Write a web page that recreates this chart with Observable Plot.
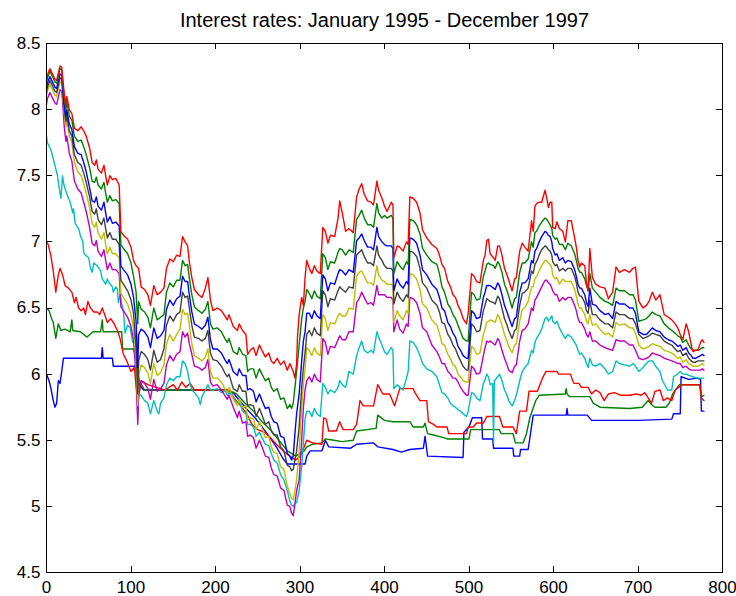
<!DOCTYPE html>
<html>
<head>
<meta charset="utf-8">
<script src="https://cdn.jsdelivr.net/npm/d3@7"></script>
<script src="https://cdn.jsdelivr.net/npm/@observablehq/plot@0.6"></script>
<style>
  body { margin: 0; background: #fff; }
  #chart svg { display: block; }
</style>
</head>
<body>
<div id="chart"></div>
<script>
// Daily interest rates, January 1995 - December 1997 (trading day index on x)

const title = "Interest rates: January 1995 - December 1997";
const xTicks = [0, 100, 200, 300, 400, 500, 600, 700, 800];
const yTicks = [4.5, 5, 5.5, 6, 6.5, 7, 7.5, 8, 8.5];

// Sampling days shared by five of the middle maturities
const midDays = [
  0,1,4,7,10,12,16,18,19,21,
  23,24,27,30,33,37,41,44,47,51,
  54,57,59,61,65,68,70,72,75,78,
  82,86,88,91,96,100,103,106,108,109,
  112,116,120,123,127,131,135,139,142,146,
  150,154,158,161,164,167,169,172,175,180,
  184,188,191,194,197,202,207,211,214,216,
  221,226,228,232,236,238,241,245,248,252,
  255,259,263,266,269,273,277,281,285,288,
  290,292,294,296,299,302,304,306,308,311,
  314,317,320,324,327,330,333,336,341,345,
  347,350,354,358,363,367,370,373,376,380,
  384,387,391,393,397,400,403,408,410,411,
  415,418,422,426,428,430,434,438,442,445,
  450,456,462,465,468,471,475,478,481,484,
  487,490,493,497,499,503,506,509,513,517,
  519,521,523,525,529,531,534,536,539,542,
  545,547,551,554,556,560,563,566,570,574,
  576,578,580,583,586,590,592,594,596,598,
  599,602,604,607,611,614,617,621,625,627,
  629,631,633,637,639,641,643,646,650,655,
  661,665,670,674,678,684,690,694,697,701,
  706,710,713,717,721,726,731,736,740,744,
  747,750,753,757,760,763,765,768,771,774,
  776,778];

const greenMid = [
  8.20,8.24,8.29,8.25,8.21,8.20,8.31,8.30,8.23,8.09,
  8.00,8.06,7.95,7.92,7.80,7.76,7.77,7.72,7.66,7.56,
  7.46,7.45,7.49,7.43,7.40,7.45,7.37,7.30,7.35,7.31,
  7.32,7.29,6.98,6.95,6.91,6.84,6.74,6.62,6.38,6.55,
  6.49,6.47,6.43,6.35,6.50,6.41,6.43,6.45,6.62,6.69,
  6.66,6.71,6.71,6.86,6.82,6.83,6.73,6.60,6.51,6.48,
  6.46,6.49,6.55,6.38,6.34,6.35,6.32,6.27,6.24,6.27,
  6.17,6.15,6.20,6.15,6.14,6.02,6.04,6.04,5.97,6.04,
  6.00,5.95,5.97,5.90,5.87,5.89,5.81,5.82,5.74,5.77,
  5.74,5.78,5.90,6.02,6.22,6.42,6.50,6.55,6.64,6.61,
  6.57,6.63,6.59,6.57,6.91,6.88,6.79,6.85,6.84,6.92,
  6.95,6.94,6.90,6.94,6.92,7.17,7.20,7.24,7.18,7.13,
  7.13,7.11,7.29,7.22,7.18,7.20,7.18,7.20,7.18,6.76,
  6.85,6.82,6.79,6.85,6.83,7.17,7.16,7.13,7.06,6.95,
  6.90,6.85,6.83,6.76,6.66,6.62,6.53,6.50,6.45,6.42,
  6.37,6.32,6.27,6.25,6.25,6.62,6.60,6.56,6.57,6.74,
  6.78,6.83,6.84,6.83,6.82,6.80,6.85,6.83,6.77,6.68,
  6.63,6.59,6.50,6.57,6.58,6.77,6.84,6.84,6.87,7.00,
  6.96,7.07,7.08,7.12,7.15,7.18,7.17,7.15,7.13,7.10,
  7.05,7.02,7.03,6.98,6.98,6.94,6.99,6.97,6.91,6.86,
  6.80,6.77,6.77,6.72,6.67,6.63,6.76,6.65,6.62,6.58,
  6.55,6.54,6.52,6.65,6.63,6.63,6.60,6.60,6.56,6.40,
  6.41,6.42,6.44,6.47,6.45,6.44,6.38,6.35,6.33,6.31,
  6.29,6.28,6.24,6.26,6.22,6.19,6.18,6.18,6.18,6.19,
  6.20,6.20];

const blueMid = [
  8.16,8.20,8.25,8.21,8.17,8.16,8.27,8.26,8.19,8.04,
  7.95,8.00,7.89,7.85,7.72,7.67,7.66,7.60,7.53,7.41,
  7.31,7.30,7.34,7.27,7.24,7.30,7.22,7.15,7.19,7.14,
  7.15,7.12,6.82,6.79,6.75,6.68,6.58,6.40,6.05,6.30,
  6.34,6.32,6.28,6.20,6.35,6.27,6.29,6.33,6.49,6.56,
  6.52,6.57,6.59,6.74,6.70,6.70,6.60,6.47,6.38,6.36,
  6.34,6.37,6.43,6.26,6.19,6.19,6.16,6.11,6.08,6.11,
  6.02,5.99,6.04,5.99,5.99,5.88,5.89,5.87,5.79,5.85,
  5.80,5.74,5.75,5.68,5.64,5.63,5.53,5.52,5.40,5.38,
  5.35,5.38,5.55,5.70,5.85,6.10,6.25,6.32,6.46,6.46,
  6.42,6.48,6.44,6.42,6.75,6.72,6.63,6.69,6.68,6.76,
  6.79,6.78,6.75,6.79,6.77,7.01,7.03,7.06,7.01,6.96,
  6.96,6.94,7.11,7.04,7.00,6.98,6.97,6.97,6.95,6.63,
  6.72,6.68,6.65,6.70,6.68,7.03,7.02,6.99,6.90,6.79,
  6.75,6.68,6.64,6.58,6.50,6.48,6.39,6.36,6.31,6.28,
  6.21,6.18,6.14,6.12,6.12,6.48,6.46,6.42,6.43,6.58,
  6.62,6.67,6.67,6.67,6.65,6.64,6.69,6.67,6.60,6.52,
  6.47,6.43,6.36,6.42,6.43,6.62,6.69,6.69,6.72,6.86,
  6.84,6.93,6.95,7.00,7.04,7.08,7.07,7.05,7.04,7.00,
  6.95,6.90,6.91,6.86,6.88,6.84,6.86,6.85,6.79,6.74,
  6.68,6.65,6.65,6.60,6.54,6.51,6.65,6.53,6.52,6.48,
  6.45,6.46,6.42,6.55,6.53,6.53,6.50,6.50,6.46,6.32,
  6.30,6.30,6.32,6.35,6.33,6.32,6.28,6.26,6.25,6.23,
  6.21,6.22,6.18,6.20,6.16,6.14,6.12,6.12,6.13,6.14,
  6.15,6.14];

const grayMid = [
  8.13,8.17,8.22,8.18,8.14,8.13,8.24,8.23,8.16,8.00,
  7.91,7.96,7.84,7.80,7.66,7.60,7.58,7.52,7.45,7.34,
  7.23,7.21,7.25,7.17,7.13,7.18,7.10,7.03,7.07,7.02,
  7.02,6.98,6.71,6.68,6.63,6.56,6.46,6.20,5.85,6.10,
  6.17,6.15,6.11,6.03,6.18,6.09,6.11,6.19,6.37,6.44,
  6.40,6.45,6.47,6.62,6.58,6.59,6.50,6.37,6.28,6.27,
  6.25,6.27,6.33,6.16,6.11,6.10,6.06,6.01,5.98,6.00,
  5.89,5.87,5.92,5.87,5.87,5.76,5.77,5.76,5.68,5.74,
  5.69,5.62,5.64,5.57,5.54,5.54,5.45,5.42,5.31,5.30,
  5.27,5.28,5.35,5.42,5.60,5.90,6.05,6.16,6.30,6.33,
  6.29,6.35,6.31,6.29,6.63,6.60,6.51,6.57,6.56,6.63,
  6.66,6.64,6.62,6.66,6.65,6.90,6.92,6.94,6.89,6.84,
  6.84,6.82,6.97,6.90,6.86,6.82,6.80,6.80,6.78,6.53,
  6.62,6.58,6.55,6.60,6.58,6.93,6.92,6.89,6.80,6.69,
  6.65,6.56,6.52,6.47,6.39,6.38,6.30,6.27,6.22,6.19,
  6.14,6.10,6.06,6.03,6.03,6.38,6.36,6.32,6.33,6.48,
  6.52,6.57,6.56,6.55,6.54,6.53,6.59,6.57,6.50,6.42,
  6.37,6.33,6.27,6.33,6.34,6.52,6.61,6.62,6.65,6.78,
  6.76,6.83,6.85,6.90,6.94,6.97,6.96,6.94,6.93,6.90,
  6.85,6.82,6.83,6.78,6.80,6.78,6.80,6.80,6.74,6.69,
  6.62,6.59,6.59,6.54,6.48,6.46,6.56,6.45,6.45,6.41,
  6.38,6.38,6.35,6.47,6.45,6.45,6.42,6.42,6.38,6.30,
  6.27,6.28,6.29,6.31,6.30,6.29,6.25,6.23,6.22,6.19,
  6.17,6.18,6.14,6.16,6.12,6.10,6.09,6.09,6.10,6.10,
  6.10,6.10];

const yellowMid = [
  8.10,8.14,8.19,8.15,8.11,8.10,8.21,8.20,8.13,7.97,
  7.87,7.92,7.80,7.75,7.60,7.53,7.50,7.44,7.37,7.26,
  7.14,7.11,7.15,7.07,7.02,7.07,6.98,6.91,6.96,6.91,
  6.91,6.88,6.61,6.58,6.53,6.45,6.35,6.10,5.76,5.98,
  6.07,6.05,6.01,5.93,6.08,5.99,6.01,6.07,6.23,6.30,
  6.25,6.30,6.34,6.49,6.45,6.46,6.37,6.23,6.14,6.12,
  6.10,6.13,6.19,6.02,5.97,5.97,5.94,5.89,5.86,5.90,
  5.81,5.76,5.81,5.75,5.76,5.66,5.67,5.66,5.58,5.64,
  5.59,5.52,5.53,5.45,5.41,5.40,5.30,5.28,5.15,5.10,
  5.06,5.05,5.12,5.20,5.42,5.75,5.92,6.04,6.20,6.18,
  6.14,6.20,6.16,6.14,6.45,6.42,6.33,6.39,6.38,6.44,
  6.46,6.44,6.44,6.50,6.49,6.74,6.77,6.78,6.74,6.69,
  6.69,6.67,6.82,6.75,6.71,6.70,6.68,6.68,6.66,6.39,
  6.48,6.44,6.41,6.48,6.46,6.76,6.75,6.72,6.64,6.53,
  6.50,6.41,6.37,6.31,6.23,6.22,6.15,6.12,6.07,6.06,
  6.00,5.98,5.95,5.94,5.94,6.21,6.19,6.15,6.16,6.30,
  6.34,6.39,6.40,6.41,6.40,6.39,6.45,6.43,6.37,6.30,
  6.25,6.21,6.16,6.22,6.23,6.40,6.49,6.50,6.55,6.66,
  6.66,6.72,6.74,6.78,6.82,6.86,6.86,6.84,6.83,6.80,
  6.75,6.72,6.73,6.68,6.72,6.70,6.70,6.70,6.64,6.59,
  6.53,6.50,6.50,6.45,6.40,6.38,6.45,6.37,6.38,6.34,
  6.30,6.31,6.28,6.39,6.37,6.38,6.35,6.35,6.31,6.22,
  6.19,6.20,6.21,6.23,6.22,6.21,6.18,6.17,6.16,6.14,
  6.12,6.13,6.09,6.11,6.08,6.07,6.06,6.06,6.06,6.07,
  6.08,6.07];

const magentaMid = [
  8.04,8.08,8.13,8.09,8.05,8.04,8.15,8.14,8.07,7.87,
  7.76,7.80,7.67,7.61,7.46,7.40,7.37,7.30,7.23,7.11,
  6.99,6.97,7.01,6.93,6.89,6.94,6.86,6.79,6.84,6.79,
  6.79,6.76,6.51,6.48,6.43,6.36,6.26,5.98,5.62,5.85,
  5.95,5.93,5.89,5.81,5.96,5.87,5.89,5.93,6.07,6.14,
  6.10,6.15,6.17,6.32,6.28,6.31,6.23,6.15,6.06,6.05,
  6.03,6.05,6.11,5.94,5.91,5.92,5.88,5.84,5.81,5.84,
  5.75,5.67,5.72,5.63,5.64,5.53,5.54,5.52,5.44,5.50,
  5.45,5.38,5.37,5.29,5.24,5.23,5.14,5.12,5.01,5.00,
  4.95,4.93,5.02,5.12,5.20,5.50,5.75,5.88,5.95,5.98,
  5.94,6.00,5.96,5.94,6.27,6.24,6.15,6.21,6.20,6.26,
  6.29,6.26,6.26,6.32,6.32,6.54,6.57,6.62,6.58,6.53,
  6.54,6.52,6.67,6.60,6.60,6.60,6.58,6.58,6.56,6.32,
  6.41,6.34,6.31,6.38,6.36,6.58,6.57,6.54,6.46,6.35,
  6.32,6.22,6.17,6.13,6.08,6.08,6.02,6.00,5.97,5.97,
  5.94,5.90,5.87,5.84,5.84,6.06,6.04,6.00,6.01,6.14,
  6.20,6.25,6.24,6.25,6.23,6.22,6.27,6.25,6.18,6.12,
  6.07,6.03,6.01,6.06,6.07,6.25,6.33,6.34,6.38,6.50,
  6.48,6.56,6.58,6.62,6.66,6.71,6.71,6.69,6.68,6.65,
  6.63,6.60,6.60,6.55,6.58,6.56,6.58,6.58,6.52,6.48,
  6.42,6.39,6.39,6.34,6.30,6.28,6.32,6.25,6.25,6.22,
  6.20,6.19,6.18,6.26,6.25,6.25,6.22,6.22,6.18,6.12,
  6.11,6.12,6.13,6.16,6.15,6.14,6.12,6.11,6.10,6.09,
  6.08,6.08,6.05,6.06,6.04,6.03,6.03,6.03,6.03,6.03,
  6.04,6.03];

// Cyan maturity: [day, rate]
const cyanMid = [[0,7.80],[1,7.75],[5,7.70],[8,7.63],[13,7.50],[14,7.45],[17,7.33],[19,7.50],[20,7.45],[22,7.40],
  [26,7.33],[28,7.30],[31,7.22],[32,7.25],[34,7.14],[38,7.10],[40,7.05],[43,7.00],[44,6.92],[46,6.90],
  [50,6.88],[52,6.80],[54,6.77],[56,6.84],[60,6.82],[64,6.78],[66,6.72],[70,6.68],[72,6.72],[73,6.70],
  [78,6.66],[79,6.62],[82,6.66],[84,6.64],[85,6.54],[87,6.60],[90,6.50],[91,6.47],[93,6.31],[96,6.37],
  [99,6.35],[102,6.24],[104,6.32],[107,6.10],[108,5.66],[109,5.85],[112,5.84],[116,5.80],[120,5.78],[123,5.70],
  [127,5.80],[131,5.72],[133,5.70],[135,5.78],[139,5.82],[142,5.92],[146,5.97],[150,5.95],[154,5.98],[158,5.98],
  [161,6.10],[164,6.08],[167,6.02],[169,5.95],[172,5.88],[175,5.86],[180,5.82],[182,5.77],[184,5.83],[188,5.88],
  [191,5.92],[194,5.88],[197,5.88],[202,5.89],[207,5.86],[211,5.88],[214,5.84],[216,5.86],[221,5.82],[226,5.78],
  [228,5.80],[232,5.72],[236,5.70],[238,5.62],[241,5.62],[245,5.60],[248,5.53],[252,5.56],[255,5.52],[259,5.47],
  [263,5.46],[266,5.40],[269,5.35],[273,5.33],[277,5.24],[281,5.20],[285,5.12],[288,5.04],[290,5.01],[292,5.00],
  [294,5.02],[296,5.03],[299,5.12],[302,5.30],[304,5.48],[306,5.66],[308,5.72],[311,5.72],[314,5.68],[317,5.74],
  [320,5.70],[324,5.68],[327,5.93],[330,5.90],[333,5.85],[336,5.88],[341,5.86],[345,5.90],[347,5.95],[350,5.92],
  [354,5.90],[358,6.02],[363,6.00],[367,6.14],[370,6.20],[373,6.25],[376,6.18],[380,6.16],[384,6.18],[387,6.16],
  [391,6.32],[393,6.28],[397,6.22],[400,6.17],[403,6.15],[408,6.20],[410,6.18],[411,5.89],[415,5.92],[418,5.90],
  [422,5.88],[426,5.97],[428,6.02],[430,6.25],[434,6.24],[438,6.20],[442,6.14],[445,6.08],[450,6.04],[456,6.02],
  [462,5.98],[465,5.92],[468,5.86],[471,5.85],[475,5.82],[478,5.78],[481,5.76],[484,5.75],[487,5.73],[490,5.72],
  [493,5.70],[497,5.68],[499,5.72],[503,5.86],[506,5.85],[509,5.82],[513,5.80],[517,5.93],[519,5.96],[521,6.00],
  [523,5.98],[525,5.92],[528,5.93],[529,5.48],[530,5.95],[534,5.98],[536,6.00],[539,5.95],[542,5.88],[545,5.84],
  [547,5.80],[551,5.76],[554,5.80],[556,5.84],[560,5.95],[563,6.02],[566,6.05],[570,6.08],[574,6.18],[576,6.16],
  [578,6.24],[580,6.27],[583,6.30],[586,6.34],[590,6.42],[592,6.43],[594,6.40],[596,6.42],[598,6.44],[599,6.40],
  [602,6.38],[604,6.40],[607,6.35],[611,6.30],[614,6.27],[617,6.30],[621,6.28],[625,6.24],[627,6.22],[629,6.18],
  [631,6.15],[633,6.16],[637,6.12],[639,6.08],[641,6.05],[643,6.12],[646,6.07],[650,6.06],[655,6.08],[661,6.04],
  [665,6.00],[670,6.02],[674,6.10],[678,6.08],[684,6.07],[690,6.06],[694,6.08],[697,6.06],[701,6.02],[706,6.05],
  [710,6.08],[713,6.10],[717,6.10],[721,6.06],[726,6.02],[729,5.95],[735,5.88],[740,5.88],[742,5.98],[747,6.00],
  [750,6.02],[753,6.00],[757,6.00],[760,5.99],[765,5.98],[770,5.97],[774,5.97],[778,5.97]];

// Longest maturity: [day, rate]
const redLong = [[0,8.22],[1,8.26],[4,8.31],[7,8.27],[10,8.23],[12,8.22],[16,8.33],[18,8.32],[19,8.25],[21,8.12],
  [23,8.04],[24,8.10],[27,8.00],[30,7.97],[33,7.86],[37,7.84],[41,7.87],[44,7.84],[47,7.80],[51,7.71],
  [54,7.60],[57,7.58],[59,7.62],[61,7.55],[65,7.52],[68,7.58],[70,7.50],[72,7.43],[75,7.50],[78,7.47],
  [82,7.48],[86,7.43],[88,7.08],[91,7.05],[96,7.02],[100,6.96],[103,6.86],[106,6.82],[109,6.80],[112,6.66],
  [116,6.64],[120,6.60],[123,6.52],[127,6.67],[131,6.60],[135,6.62],[139,6.65],[142,6.80],[146,6.87],[150,6.85],
  [154,6.90],[158,6.89],[161,7.04],[164,7.00],[167,6.97],[169,6.85],[172,6.73],[175,6.64],[180,6.60],[184,6.58],
  [188,6.65],[191,6.73],[194,6.56],[197,6.48],[202,6.50],[207,6.48],[211,6.44],[214,6.41],[216,6.45],[221,6.36],
  [226,6.33],[228,6.38],[232,6.33],[236,6.30],[238,6.15],[241,6.18],[245,6.20],[248,6.14],[252,6.22],[255,6.18],
  [259,6.13],[263,6.16],[266,6.10],[269,6.08],[273,6.12],[277,6.07],[281,6.10],[285,6.03],[288,6.08],[292,6.02],
  [294,5.97],[296,6.08],[297,6.28],[299,6.45],[302,6.58],[304,6.52],[306,6.73],[308,6.86],[311,6.80],[314,6.76],
  [317,6.82],[320,6.78],[324,6.76],[327,7.11],[330,7.08],[333,6.99],[336,7.05],[341,7.04],[345,7.18],[347,7.31],
  [350,7.22],[354,7.08],[358,7.10],[363,7.07],[367,7.34],[370,7.40],[373,7.44],[376,7.36],[380,7.31],[384,7.30],
  [387,7.28],[391,7.46],[393,7.39],[397,7.33],[400,7.27],[403,7.23],[408,7.30],[410,7.28],[411,6.88],[415,6.97],
  [418,6.96],[422,6.93],[426,7.00],[428,6.98],[430,7.34],[434,7.33],[438,7.30],[442,7.22],[445,7.09],[450,7.03],
  [456,6.98],[462,6.95],[465,6.90],[468,6.83],[471,6.80],[475,6.70],[478,6.66],[481,6.60],[484,6.58],[487,6.52],
  [490,6.48],[493,6.42],[497,6.38],[499,6.46],[503,6.76],[506,6.74],[509,6.70],[513,6.69],[517,6.86],[519,6.90],
  [521,7.01],[523,7.02],[525,6.91],[529,6.88],[531,6.86],[534,6.97],[536,6.97],[539,6.90],[542,6.80],[545,6.75],
  [547,6.71],[551,6.63],[554,6.72],[556,6.73],[560,6.93],[563,6.99],[566,6.96],[570,6.93],[574,7.16],[576,7.08],
  [578,7.27],[580,7.29],[583,7.30],[586,7.30],[590,7.39],[592,7.33],[594,7.26],[596,7.30],[598,7.30],[599,7.11],
  [602,7.10],[604,7.15],[607,7.10],[611,7.08],[614,7.00],[617,7.16],[621,7.16],[625,7.03],[627,6.96],[629,6.86],
  [631,6.81],[633,6.84],[637,6.82],[639,6.69],[641,6.63],[643,6.95],[646,6.73],[650,6.68],[655,6.66],[661,6.65],
  [665,6.57],[670,6.62],[674,6.81],[678,6.77],[684,6.79],[690,6.77],[694,6.80],[697,6.81],[701,6.55],[706,6.50],
  [710,6.52],[713,6.55],[717,6.62],[721,6.56],[726,6.60],[731,6.45],[736,6.43],[740,6.41],[744,6.38],[747,6.35],
  [750,6.30],[753,6.26],[757,6.38],[760,6.32],[763,6.22],[765,6.17],[768,6.18],[771,6.18],[774,6.24],[776,6.26],
  [778,6.24]];

// Short maturities: [day, rate]
const blueShort = [[0,6.00],[3,5.95],[5,5.90],[8,5.80],[10,5.75],[12,5.78],[14,5.95],[16,5.93],[18,6.02],[20,6.12],
  [34,6.12],[46,6.12],[65,6.12],[66,6.20],[67,6.12],[78,6.12],[79,6.06],[105,6.06],[110,5.92],[115,5.88],
  [215,5.88],[222,5.85],[235,5.75],[248,5.66],[260,5.56],[272,5.45],[280,5.36],[285,5.32],[306,5.32],[308,5.38],
  [312,5.42],[326,5.42],[330,5.50],[334,5.45],[360,5.44],[367,5.47],[387,5.48],[392,5.45],[410,5.43],[420,5.41],
  [430,5.43],[446,5.44],[448,5.53],[451,5.38],[493,5.37],[494,5.56],[500,5.60],[504,5.67],[515,5.67],[516,5.51],
  [528,5.51],[529,5.44],[552,5.44],[553,5.38],[560,5.38],[561,5.43],[570,5.43],[573,5.56],[576,5.69],[615,5.69],
  [616,5.74],[617,5.69],[640,5.69],[645,5.65],[700,5.65],[740,5.66],[742,5.70],[750,5.70],[751,5.98],[760,5.96],
  [770,5.97],[774,5.96],[775,5.72],[778,5.72]];

const greenShort = [[0,6.50],[3,6.48],[6,6.42],[8,6.39],[11,6.27],[14,6.38],[17,6.33],[22,6.34],[28,6.32],[30,6.41],
  [31,6.33],[40,6.32],[48,6.28],[55,6.32],[64,6.32],[66,6.41],[67,6.32],[75,6.32],[89,6.32],[90,6.19],
  [103,6.19],[106,6.10],[110,5.95],[116,5.88],[140,5.88],[160,5.88],[180,5.88],[215,5.88],[225,5.85],[235,5.78],
  [245,5.72],[255,5.64],[265,5.58],[275,5.50],[285,5.42],[295,5.38],[305,5.42],[308,5.45],[315,5.47],[326,5.48],
  [330,5.51],[340,5.50],[350,5.49],[363,5.50],[367,5.57],[390,5.59],[392,5.69],[400,5.65],[410,5.64],[430,5.64],
  [434,5.60],[446,5.60],[448,5.63],[451,5.55],[458,5.54],[470,5.52],[474,5.51],[500,5.51],[502,5.58],[536,5.58],
  [538,5.55],[552,5.55],[555,5.48],[564,5.48],[568,5.55],[572,5.67],[579,5.80],[583,5.84],[614,5.85],[615,5.89],
  [616,5.85],[619,5.83],[643,5.83],[647,5.78],[655,5.75],[690,5.74],[705,5.75],[712,5.80],[716,5.77],[720,5.75],
  [733,5.75],[737,5.78],[741,5.85],[749,5.92],[760,5.92],[773,5.92],[775,5.83],[778,5.84]];

const redShort = [[0,7.00],[2,6.98],[5,6.90],[8,6.78],[11,6.62],[14,6.75],[16,6.80],[19,6.75],[22,6.67],[26,6.65],
  [30,6.62],[33,6.54],[35,6.58],[38,6.50],[41,6.48],[44,6.50],[46,6.45],[49,6.55],[52,6.50],[56,6.47],
  [60,6.47],[63,6.45],[66,6.50],[70,6.43],[72,6.39],[76,6.42],[80,6.38],[84,6.33],[87,6.27],[91,6.15],
  [95,6.10],[100,6.02],[104,6.05],[108,5.78],[112,5.95],[120,5.92],[130,5.90],[140,5.88],[150,5.92],[155,5.88],
  [160,5.94],[165,5.90],[170,5.93],[175,5.88],[215,5.88],[222,5.82],[230,5.76],[237,5.70],[243,5.62],[250,5.58],
  [258,5.56],[265,5.52],[272,5.47],[280,5.42],[288,5.38],[295,5.35],[300,5.38],[305,5.45],[308,5.50],[315,5.48],
  [326,5.47],[328,5.67],[331,5.66],[334,5.57],[343,5.57],[347,5.64],[351,5.58],[363,5.58],[367,5.62],[371,5.80],
  [375,5.76],[387,5.76],[392,5.92],[398,5.85],[406,5.85],[412,5.76],[418,5.89],[430,5.89],[434,5.89],[436,5.86],
  [442,5.80],[450,5.80],[452,5.64],[458,5.62],[462,5.60],[474,5.60],[476,5.55],[497,5.55],[499,5.60],[505,5.60],
  [509,5.63],[517,5.63],[521,5.68],[536,5.68],[540,5.60],[552,5.60],[556,5.55],[560,5.72],[568,5.72],[571,5.87],
  [581,5.87],[587,5.97],[591,6.02],[604,6.02],[606,6.00],[620,6.00],[624,5.93],[630,5.93],[633,5.90],[641,5.90],
  [645,5.85],[650,5.88],[655,5.86],[660,5.80],[665,5.85],[672,5.86],[680,5.84],[690,5.84],[698,5.85],[704,5.84],
  [708,5.86],[712,5.82],[716,5.78],[720,5.87],[726,5.88],[730,5.80],[735,5.82],[740,5.80],[744,5.88],[748,5.90],
  [752,5.92],[773,5.92],[775,5.82],[778,5.80]];

const onMidDays = values => midDays.map((d, i) => [d, values[i]]);

// Drawn in this order, later series on top
const series = [
  {points: blueShort,              color: "#0000ff"},
  {points: greenShort,             color: "#008000"},
  {points: redShort,               color: "#ff0000"},
  {points: cyanMid,                color: "#00bfbf"},
  {points: onMidDays(magentaMid),  color: "#bf00bf"},
  {points: onMidDays(yellowMid),   color: "#bfbf00"},
  {points: onMidDays(grayMid),     color: "#404040"},
  {points: onMidDays(blueMid),     color: "#0000ff"},
  {points: onMidDays(greenMid),    color: "#008000"},
  {points: redLong,                color: "#ff0000"}
];

const lines = series.map(s =>
  Plot.line(s.points, {x: d => d[0], y: d => d[1], stroke: s.color, strokeWidth: 1.4})
);

const W = 736, H = 596;
const mL = 46, mR = 14, mT = 43, mB = 24;
const tickLen = 6;

const chart = Plot.plot({
  width: W,
  height: H,
  marginLeft: mL,
  marginRight: mR,
  marginTop: mT,
  marginBottom: mB,
  style: {
    fontFamily: "'Liberation Sans', Arial, Helvetica, sans-serif",
    fontSize: "17px",
    background: "#ffffff",
    color: "#000000"
  },
  x: {domain: [0, 800]},
  y: {domain: [4.5, 8.5]},
  marks: [
    ...lines,
    Plot.frame({stroke: "#000000", strokeWidth: 1}),
    // tick labels
    Plot.axisX(xTicks, {anchor: "bottom", tickSize: 0, tickPadding: 8, label: null, fontSize: 17}),
    Plot.axisY(yTicks, {anchor: "left", tickSize: 0, tickPadding: 6, tickFormat: d => String(d), label: null, fontSize: 17}),
    Plot.text([title], {frameAnchor: "top", dy: -31, fontSize: 20, fill: "#000000"})
  ]
});

// Inward tick marks on all four sides of the box, placed with the plot's own scales
const xScale = chart.scale("x");
const yScale = chart.scale("y");
const tickGroup = d3.select(chart).append("g")
  .attr("stroke", "#000000")
  .attr("stroke-width", 1)
  .attr("shape-rendering", "crispEdges");
const boxTop = mT, boxBottom = H - mB, boxLeft = mL, boxRight = W - mR;
for (const t of xTicks) {
  const px = Math.round(xScale.apply(t)) + 0.5;
  tickGroup.append("line").attr("x1", px).attr("x2", px).attr("y1", boxBottom).attr("y2", boxBottom - tickLen);
  tickGroup.append("line").attr("x1", px).attr("x2", px).attr("y1", boxTop).attr("y2", boxTop + tickLen);
}
for (const t of yTicks) {
  const py = Math.round(yScale.apply(t)) + 0.5;
  tickGroup.append("line").attr("y1", py).attr("y2", py).attr("x1", boxLeft).attr("x2", boxLeft + tickLen);
  tickGroup.append("line").attr("y1", py).attr("y2", py).attr("x1", boxRight).attr("x2", boxRight - tickLen);
}

document.getElementById("chart").appendChild(chart);
</script>
</body>
</html>
